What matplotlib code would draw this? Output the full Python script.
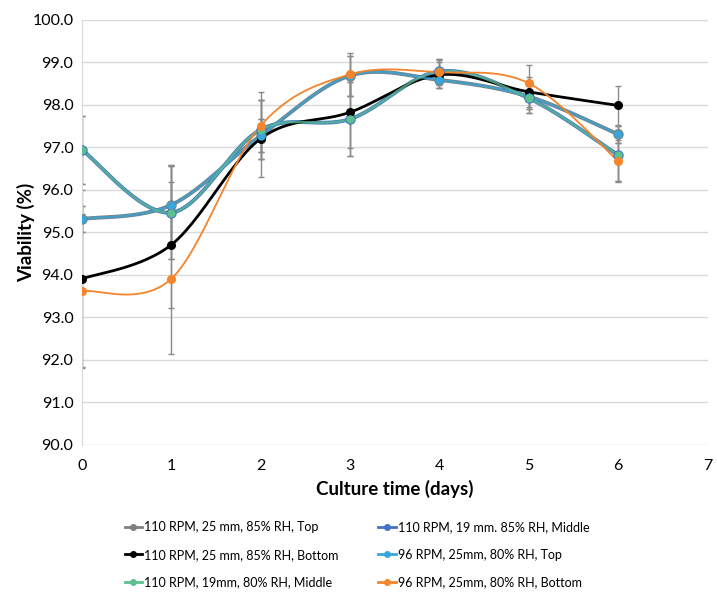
import numpy as np
import matplotlib
matplotlib.use("Agg")
import matplotlib.pyplot as plt

plt.rcParams['font.family'] = ['Lato', 'DejaVu Sans']

days = [0, 1, 2, 3, 4, 5, 6]

# values
top_110 = [95.31, 95.64, 97.27, 98.68, 98.58, 98.19, 97.30]
middle_110 = [96.94, 95.46, 97.41, 97.66, 98.78, 98.15, 96.81]
bottom_110 = [93.90, 94.70, 97.20, 97.82, 98.70, 98.30, 97.98]
top_96 = [95.31, 95.64, 97.27, 98.68, 98.58, 98.19, 97.30]
middle_110_19 = [96.94, 95.46, 97.41, 97.66, 98.78, 98.15, 96.81]
bottom_96 = [93.62, 93.90, 97.50, 98.71, 98.76, 98.50, 96.67]

err_top = [0.30, 0.94, 0.38, 0.47, 0.20, 0.30, 0.20]
err_middle = [0.80, 1.10, 0.69, 0.86, 0.30, 0.35, 0.60]
err_bottom_110 = [2.10, 1.48, 0.90, 0.85, 0.30, 0.35, 0.45]
err_bottom_96 = [1.80, 1.76, 0.79, 0.50, 0.30, 0.42, 0.50]

labels = ["110 RPM, 25 mm, 85% RH, Top",
          "110 RPM, 25 mm, 85% RH, Bottom",
          "110 RPM, 19mm, 80% RH, Middle",
          "110 RPM, 19 mm. 85% RH, Middle",
          "96 RPM, 25mm, 80% RH, Top",
          "96 RPM, 25mm, 80% RH, Bottom"]


def smooth(x, y, n=30):
    # catmull-rom style smoothing like excel's smoothed lines
    x = np.asarray(x, float)
    y = np.asarray(y, float)
    px = np.concatenate([[x[0]], x, [x[-1]]])
    py = np.concatenate([[y[0]], y, [y[-1]]])
    xs, ys = [], []
    t = np.linspace(0, 1, n)
    for i in range(1, len(px) - 2):
        p0 = np.array([px[i], py[i]])
        p3 = np.array([px[i + 1], py[i + 1]])
        c1 = p0 + (np.array([px[i + 1], py[i + 1]]) - np.array([px[i - 1], py[i - 1]])) / 6
        c2 = p3 - (np.array([px[i + 2], py[i + 2]]) - np.array([px[i], py[i]])) / 6
        b = ((1 - t) ** 3)[:, None] * p0 + (3 * (1 - t) ** 2 * t)[:, None] * c1 \
            + (3 * (1 - t) * t ** 2)[:, None] * c2 + (t ** 3)[:, None] * p3
        xs.extend(b[:, 0])
        ys.extend(b[:, 1])
    return xs, ys


fig = plt.figure(figsize=(7.17, 5.93), dpi=100)
ax = fig.add_axes([0.114, 0.250, 0.873, 0.717])

series = [
    (top_110, err_top, '#7f7f7f', 2.8, 6.5, labels[0]),
    (middle_110, err_middle, '#4472c4', 2.8, 6.5, labels[3]),
    (bottom_110, err_bottom_110, 'black', 2.0, 5.5, labels[1]),
    (top_96, err_top, '#35a7dc', 1.8, 5.0, labels[4]),
    (middle_110_19, err_middle, '#5cc08f', 1.8, 5.0, labels[2]),
    (bottom_96, err_bottom_96, '#f5842a', 1.3, 5.5, labels[5]),
]

handles = {}
for vals, err, col, lw, ms, lab in series:
    ax.errorbar(days, vals, yerr=err, fmt='none', ecolor='#8a8a8a',
                elinewidth=1.0, capsize=2.5, capthick=1.0, zorder=2)
for vals, err, col, lw, ms, lab in series:
    sx, sy = smooth(days, vals)
    alpha = 0.75 if col in ('#35a7dc', '#5cc08f') else 1.0
    ax.plot(sx, sy, color=col, lw=lw, alpha=alpha, zorder=3)
    ax.plot(days, vals, 'o', color=col, ms=ms, zorder=4)
    h, = ax.plot([], [], '-o', color=col, lw=2, ms=4)
    handles[lab] = h

ax.set_xlim(0, 7)
ax.set_ylim(90, 100)
ax.set_yticks(np.arange(90, 100.1, 1))
ax.set_yticklabels(["%.1f" % v for v in np.arange(90, 100.1, 1)])
ax.set_xticks(range(8))
ax.tick_params(length=0, labelsize=11.5, pad=6)
ax.tick_params(axis='x', pad=10)
ax.grid(axis='y', color='#d9d9d9', lw=1)
ax.set_axisbelow(True)
for s in ['top', 'right', 'bottom']:
    ax.spines[s].set_visible(False)
ax.spines['left'].set_color('#d9d9d9')

ax.set_xlabel("Culture time (days)", fontsize=13.5, fontweight='bold', labelpad=5)
ax.set_ylabel("Viability (%)", fontsize=13.5, fontweight='bold', labelpad=-2)

order = [labels[0], labels[1], labels[2], labels[3], labels[4], labels[5]]
fig.legend([handles[l] for l in order], order, ncol=2, frameon=False,
           loc='upper left', bbox_to_anchor=(0.158, 0.14), fontsize=9.0,
           handlelength=1.4, handletextpad=0.15, columnspacing=3.2,
           labelspacing=1.25)

fig.savefig("out.png", dpi=100)
